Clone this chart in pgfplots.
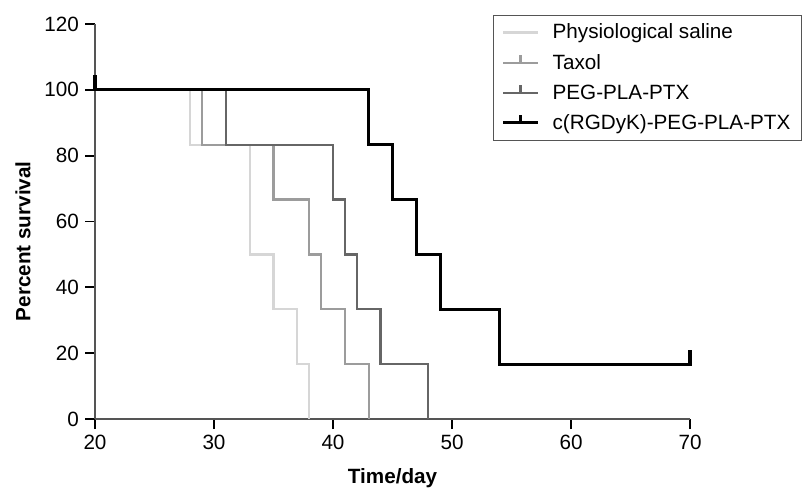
\documentclass[border=0pt]{standalone}
\usepackage{pgfplots}
\pgfplotsset{compat=1.18}
\usepackage{fontspec}
\setmainfont{Liberation Sans}

\definecolor{saline}{HTML}{D6D6D6}
\definecolor{taxol}{HTML}{9C9C9C}
\definecolor{pegpla}{HTML}{666666}
\definecolor{axgray}{HTML}{555555}

\pgfplotsset{
  censorleg/.style={legend image code/.code={
    \draw[##1] (0pt,0pt) -- (26pt,0pt);
    \draw[##1] (13pt,0pt) -- (13pt,6pt);}},
  plainleg/.style={legend image code/.code={
    \draw[##1] (0pt,0pt) -- (26pt,0pt);}},
}

\begin{document}
\begin{tikzpicture}
\begin{axis}[
  name=km,
  scale only axis,
  width=446.25pt, height=296.25pt,
  xmin=20, xmax=70, ymin=0, ymax=120,
  xtick={20,30,...,70}, ytick={0,20,...,120},
  axis lines=left,
  axis line style={-, axgray, line width=1pt},
  tick align=outside,
  major tick length=7.5pt,
  every tick/.style={black, line width=1.3pt},
  tick label style={font=\fontsize{15.5}{17}\selectfont},
  /pgf/number format/assume math mode=true,
  xticklabel style={yshift=-1pt},
  yticklabel style={xshift=-1pt},
  label style={font=\fontsize{15.5}{17}\selectfont\bfseries},
  xlabel={Time/day},
  xlabel style={at={(axis description cs:0.5,-0.149)}, anchor=center},
  ylabel={Percent survival},
  ylabel style={at={(axis description cs:-0.121,0.45)}, anchor=center},
  clip=false,
  legend style={
    at={(rel axis cs:0.669,1.023)}, anchor=north west,
    draw=axgray, line width=0.6pt,
    font=\fontsize{15.5}{17}\selectfont,
    legend cell align=left,
    row sep=6pt,
    inner xsep=6pt, inner ysep=4.5pt,
    /tikz/every odd column/.append style={column sep=8pt},
  },
]
\addplot[saline, line width=1.7pt, const plot, plainleg] coordinates {
  (20,100) (28,83.33) (33,50) (35,33.33) (37,16.67) (38,0) (38,0)
};
\addlegendentry{Physiological saline}
\addplot[taxol, line width=1.7pt, const plot, censorleg] coordinates {
  (20,100) (29,83.33) (35,66.67) (38,50) (39,33.33) (41,16.67) (43,0) (43,0)
};
\addlegendentry{Taxol}
\addplot[pegpla, line width=1.7pt, const plot, censorleg] coordinates {
  (20,100) (31,83.33) (40,66.67) (41,50) (42,33.33) (44,16.67) (48,0) (48,0)
};
\addlegendentry{PEG-PLA-PTX}
\addplot[black, line width=2.4pt, const plot, censorleg] coordinates {
  (20,104.5) (20,100) (43,83.33) (45,66.67) (47,50) (49,33.33) (54,16.67) (70,16.67) (70,21)
};
\addlegendentry{c(RGDyK)-PEG-PLA-PTX}
\coordinate (O) at (rel axis cs:0,0);
\coordinate (T) at (rel axis cs:1,1);
\end{axis}
\pgfresetboundingbox
\path ([shift={(-71.25pt,-55.5pt)}]O) rectangle ([shift={(85.5pt,18pt)}]T);
\end{tikzpicture}
\end{document}
